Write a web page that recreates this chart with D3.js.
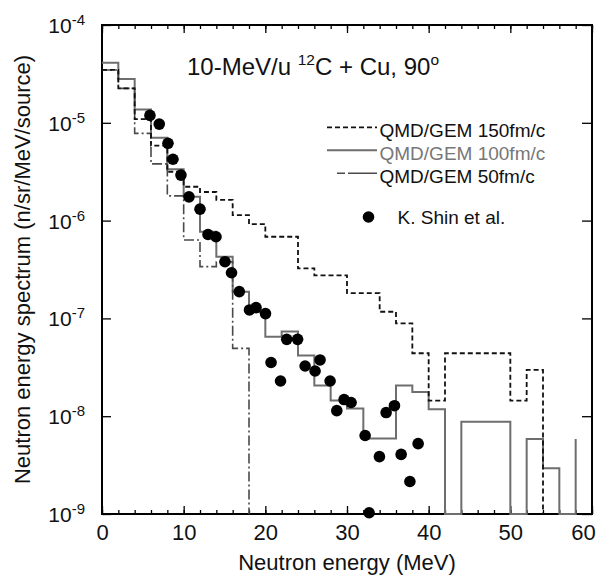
<!DOCTYPE html>
<html>
<head>
<meta charset="utf-8">
<script src="https://cdn.jsdelivr.net/npm/d3@7"></script>
<style>
  body { margin: 0; background: #fff; }
  text { font-family: "Liberation Sans", Arial, Helvetica, sans-serif; }
</style>
</head>
<body>
<div id="my_dataviz"></div>
<script>
// histogram bins are 2 MeV wide, starting at 0 MeV (0 = empty bin)
var binWidth = 2;
var qmd150 = [3.47e-5, 2.25e-5, 1.09e-5, 5.84e-6, 3.16e-6, 2.22e-6, 1.96e-6, 1.63e-6,
  1.14e-6, 9.2e-7, 6.84e-7, 6.84e-7, 3.24e-7, 2.75e-7, 2.75e-7, 1.81e-7, 1.81e-7,
  1.17e-7, 8.9e-8, 4.4e-8, 1.44e-8, 4.4e-8, 4.4e-8, 4.4e-8, 4.4e-8, 1.44e-8, 2.97e-8, 0];
var qmd100 = [4.12e-5, 2.8e-5, 1.37e-5, 7.05e-6, 3.35e-6, 1.75e-6, 7.7e-7, 4.28e-7,
  1.87e-7, 1.16e-7, 6.5e-8, 7.35e-8, 4.18e-8, 2.06e-8, 1.45e-8, 1.2e-8, 5.9e-9, 5.9e-9,
  2.06e-8, 1.77e-8, 1.18e-8, 0, 8.8e-9, 8.8e-9, 8.8e-9, 0, 5.85e-9, 2.93e-9, 0, 5.85e-9];
var qmd50 = [3.47e-5, 2.25e-5, 7.8e-6, 3.8e-6, 1.79e-6, 6.34e-7, 3.38e-7, 3.78e-7, 4.94e-8, 0];

// K. Shin et al. measured points
var shinE = [5.87, 7.01, 8.08, 8.69, 9.67, 10.65, 12.0, 12.98, 13.96, 15.06, 15.86, 16.81,
  18.06, 18.86, 20.02, 20.7, 21.86, 22.62, 23.95, 24.87, 26.7, 26.09, 27.93, 28.75, 29.64,
  30.5, 32.22, 32.71, 33.97, 34.79, 35.81, 36.63, 37.7, 38.71];
var shinV = [1.19e-5, 9.7e-6, 6.17e-6, 4.24e-6, 2.92e-6, 1.75e-6, 1.31e-6, 7.21e-7, 6.84e-7,
  3.8e-7, 2.93e-7, 1.88e-7, 1.22e-7, 1.29e-7, 1.12e-7, 3.54e-8, 2.29e-8, 6.11e-8, 6.11e-8,
  3.26e-8, 3.76e-8, 2.9e-8, 2.29e-8, 1.14e-8, 1.48e-8, 1.38e-8, 6.35e-9, 1.03e-9, 3.86e-9,
  1.09e-8, 1.28e-8, 4.07e-9, 2.15e-9, 5.24e-9];

var xMajor = [0, 10, 20, 30, 40, 50, 60];
var xMinor = d3.range(0, 61, 2);
var yExp = [-9, -8, -7, -6, -5, -4];

var margin = { top: 25, right: 11, bottom: 70, left: 102 },
  width = 603 - margin.left - margin.right,
  height = 489;

var svg = d3
  .select("#my_dataviz")
  .append("svg")
  .attr("width", 603)
  .attr("height", 584)
  .append("g")
  .attr("transform", "translate(" + margin.left + "," + margin.top + ")");

var x = d3.scaleLinear().domain([0, 60]).range([0, width]);
var y = d3.scaleLog().domain([1e-9, 1e-4]).range([height, 0]);

function yv(v) {
  return v > 0 ? y(v) : height;
}

// step outline of a histogram; last entry only gets its left edge
function stepPoints(vals) {
  var pts = [];
  vals.forEach(function (v, i) {
    var e0 = i * binWidth;
    pts.push([x(e0), yv(v)]);
    if (i < vals.length - 1) pts.push([x(e0 + binWidth), yv(v)]);
  });
  return pts;
}

var line = d3.line();

// axes, ticks pointing inward
function cleanAxis(g) {
  g.select(".domain").remove();
  g.selectAll(".tick line").attr("stroke", "#000").attr("stroke-width", 1.3);
}

svg.append("g")
  .attr("transform", "translate(0," + height + ")")
  .call(d3.axisBottom(x).tickValues(xMinor).tickSize(-4).tickFormat(""))
  .call(cleanAxis);
svg.append("g")
  .attr("transform", "translate(0," + height + ")")
  .call(d3.axisBottom(x).tickValues(xMajor).tickSize(-8).tickPadding(10))
  .call(cleanAxis)
  .selectAll("text")
  .attr("font-size", 22)
  .attr("fill", "#111")
  .attr("dx", function (d) { return d == 60 ? -9 : 0; });
svg.append("g")
  .call(d3.axisTop(x).tickValues(xMinor).tickSize(-4).tickFormat(""))
  .call(cleanAxis);
svg.append("g")
  .call(d3.axisTop(x).tickValues(xMajor).tickSize(-8).tickFormat(""))
  .call(cleanAxis);

var yLeft = svg.append("g")
  .call(d3.axisLeft(y).tickValues(yExp.map(function (e) { return Math.pow(10, e); }))
    .tickSize(-9).tickPadding(17).tickFormat(function () { return ""; }))
  .call(cleanAxis);
yLeft.selectAll(".tick text").each(function (d) {
  var t = d3.select(this).attr("font-size", 21).attr("fill", "#111").attr("dy", "0.36em");
  t.append("tspan").text("10");
  t.append("tspan").attr("font-size", 15).attr("dy", -8).text(Math.round(Math.log10(d)));
});
svg.append("g")
  .attr("transform", "translate(" + width + ",0)")
  .call(d3.axisRight(y).tickValues(yExp.map(function (e) { return Math.pow(10, e); }))
    .tickSize(-10).tickFormat(""))
  .call(cleanAxis);

// frame
svg.append("rect")
  .attr("width", width)
  .attr("height", height)
  .attr("fill", "none")
  .attr("stroke", "#000")
  .attr("stroke-width", 2);

// histograms
svg.append("path")
  .attr("d", line(stepPoints(qmd100)))
  .attr("fill", "none")
  .attr("stroke", "#6e6e6e")
  .attr("stroke-width", 2);
svg.append("path")
  .attr("d", line(stepPoints(qmd50)))
  .attr("fill", "none")
  .attr("stroke", "#4a4a4a")
  .attr("stroke-width", 1.6)
  .attr("stroke-dasharray", "10,3,2,3");
svg.append("path")
  .attr("d", line(stepPoints(qmd150)))
  .attr("fill", "none")
  .attr("stroke", "#111")
  .attr("stroke-width", 1.8)
  .attr("stroke-dasharray", "5,3");

// data points
svg.selectAll(".pt")
  .data(d3.range(shinE.length))
  .enter()
  .append("circle")
  .attr("class", "pt")
  .attr("cx", function (i) { return x(shinE[i]); })
  .attr("cy", function (i) { return y(shinV[i]); })
  .attr("r", 5.8)
  .attr("fill", "#000");

// title inside the plot
var title = svg.append("text")
  .attr("x", 85)
  .attr("y", 49.5)
  .attr("font-size", 24)
  .attr("fill", "#111");
title.append("tspan").text("10-MeV/u ");
title.append("tspan").attr("font-size", 15.5).attr("dy", -9.5).text("12");
title.append("tspan").attr("dy", 9.5).text("C + Cu, 90");
title.append("tspan").attr("font-size", 15.5).attr("dy", -9.5).text("o");

// legend
var legend = svg.append("g").attr("transform", "translate(225,102)");
var legendItems = [
  { label: "QMD/GEM 150fm/c", color: "#111", text: "#111", dash: "5,3", w: 1.8, x0: 0 },
  { label: "QMD/GEM 100fm/c", color: "#6e6e6e", text: "#777", dash: null, w: 2, x0: 0 },
  { label: "QMD/GEM 50fm/c", color: "#4a4a4a", text: "#111", dash: "8,3,23,0", w: 1.6, x0: 10 }
];
legendItems.forEach(function (d, i) {
  legend.append("line")
    .attr("x1", d.x0).attr("x2", 50)
    .attr("y1", i * 23 + 0.3).attr("y2", i * 23 + 0.3)
    .attr("stroke", d.color)
    .attr("stroke-width", d.w)
    .attr("stroke-dasharray", d.dash);
  legend.append("text")
    .attr("x", 52.5)
    .attr("y", i * 23 + 9.5)
    .attr("font-size", 19)
    .attr("fill", d.text)
    .text(d.label);
});
legend.append("circle").attr("cx", 41.5).attr("cy", 90).attr("r", 5.8).attr("fill", "#000");
legend.append("text")
  .attr("x", 70.5)
  .attr("y", 96.5)
  .attr("font-size", 19)
  .attr("fill", "#111")
  .text("K. Shin et al.");

// axis titles
svg.append("text")
  .attr("x", width / 2)
  .attr("y", height + 56)
  .attr("text-anchor", "middle")
  .attr("font-size", 22)
  .attr("fill", "#111")
  .text("Neutron energy (MeV)");
svg.append("text")
  .attr("transform", "translate(" + (-72) + "," + height / 2 + ")rotate(-90)")
  .attr("text-anchor", "middle")
  .attr("font-size", 22)
  .attr("fill", "#111")
  .text("Neutron energy spectrum (n/sr/MeV/source)");
</script>
</body>
</html>
